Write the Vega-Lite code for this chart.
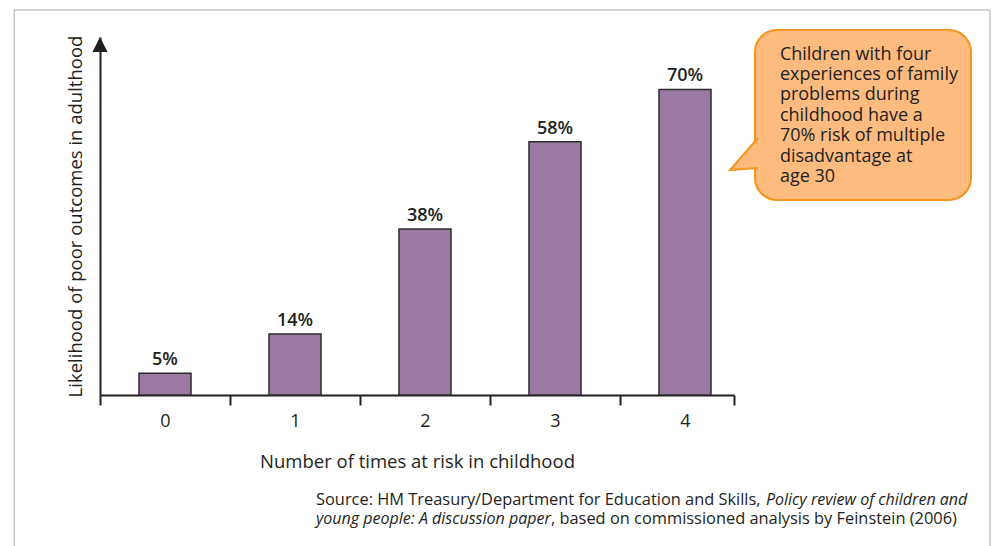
{
  "$schema": "https://vega.github.io/schema/vega-lite/v6.json",
  "autosize": {"type": "none"},
  "padding": {"left": 100, "top": 37, "right": 258, "bottom": 151},
  "width": 634,
  "height": 358,
  "background": "white",
  "config": {"view": {"stroke": null}, "font": "Open Sans"},
  "datasets": {
    "bars": [
      {"times": 0, "pct": 5, "label": "5%"},
      {"times": 1, "pct": 14, "label": "14%"},
      {"times": 2, "pct": 38, "label": "38%"},
      {"times": 3, "pct": 58, "label": "58%"},
      {"times": 4, "pct": 70, "label": "70%"}
    ],
    "frame": [{"x": -1.16, "x2": 6.346, "y": 88.18, "y2": -40}],
    "arrow": [{"x": -0.5, "y": 82}],
    "box": [{"x": 4.5385, "x2": 6.2, "y": 83.6, "y2": 44.66}],
    "tail": [{"x": 4.3462, "y": 51.54}],
    "note": [{"x": 4.73, "y": 76.8, "text": "Children with four\nexperiences of family\nproblems during\nchildhood have a\n70% risk of multiple\ndisadvantage at\nage 30"}],
    "srcNormal": [
      {"x": 1.1615, "y": -25.2, "text": "Source: HM Treasury/Department for Education and Skills,"},
      {"x": 2.969, "y": -29.55, "text": ", based on commissioned analysis by Feinstein (2006)"}
    ],
    "srcItalic": [
      {"x": 4.623, "y": -25.2, "text": "Policy review of children and"},
      {"x": 1.1615, "y": -29.55, "text": "young people: A discussion paper"}
    ]
  },
  "layer": [
    {
      "data": {"name": "frame"},
      "mark": {"type": "rect", "fill": null, "stroke": "#a8a8a8", "strokeWidth": 1},
      "encoding": {
        "x": {"field": "x", "type": "quantitative", "scale": {"domain": [-0.5, 4.377], "nice": false, "zero": false, "padding": 0}},
        "x2": {"field": "x2"},
        "y": {"field": "y", "type": "quantitative", "scale": {"domain": [0, 82], "nice": false, "padding": 0}},
        "y2": {"field": "y2"}
      }
    },
    {
      "data": {"name": "bars"},
      "mark": {"type": "bar", "orient": "vertical", "width": 52, "fill": "#9a7aa0", "stroke": "#2b2b2b", "strokeWidth": 1.5},
      "encoding": {
        "x": {
          "field": "times", "type": "quantitative",
          "scale": {"domain": [-0.5, 4.377], "nice": false, "zero": false, "padding": 0},
          "axis": {
            "values": [-0.5, 0, 0.5, 1, 1.5, 2, 2.5, 3, 3.5, 4, 4.377],
            "title": "Number of times at risk in childhood",
            "titleFont": "Open Sans", "titleFontSize": 18.5, "titleFontWeight": "normal", "titleColor": "#231f20",
            "titlePadding": 22,
            "labelExpr": "datum.value % 1 === 0 ? '' + datum.value : ''",
            "labelFont": "Open Sans", "labelFontSize": 18, "labelColor": "#231f20", "labelPadding": 7,
            "labelOverlap": false, "labelFlush": false, "labelBound": false,
            "tickSize": 10, "tickWidth": 2, "tickColor": "#231f20",
            "tickOpacity": {"condition": {"test": "datum.value % 1 === 0", "value": 0}, "value": 1},
            "domainColor": "#231f20", "domainWidth": 2, "grid": false
          }
        },
        "y": {
          "field": "pct", "type": "quantitative",
          "scale": {"domain": [0, 82], "nice": false, "padding": 0},
          "axis": {
            "title": "Likelihood of poor outcomes in adulthood",
            "titleFont": "Open Sans", "titleFontSize": 18.5, "titleFontWeight": "normal", "titleColor": "#231f20",
            "titlePadding": 15,
            "labels": false, "ticks": false, "grid": false,
            "domainColor": "#231f20", "domainWidth": 2
          }
        }
      }
    },
    {
      "data": {"name": "bars"},
      "mark": {"type": "text", "baseline": "bottom", "dy": -4, "fontSize": 18, "font": "Open Sans", "fontWeight": 600, "color": "#231f20"},
      "encoding": {
        "x": {"field": "times", "type": "quantitative"},
        "y": {"field": "pct", "type": "quantitative"},
        "text": {"field": "label"}
      }
    },
    {
      "data": {"name": "arrow"},
      "mark": {"type": "point", "shape": "M0,0L-7.5,15L7.5,15Z", "size": 4, "filled": true, "fill": "#231f20", "opacity": 1, "strokeWidth": 0},
      "encoding": {
        "x": {"field": "x", "type": "quantitative"},
        "y": {"field": "y", "type": "quantitative"}
      }
    },
    {
      "data": {"name": "box"},
      "mark": {"type": "rect", "fill": "#fdbb7f", "stroke": "#f7941d", "strokeWidth": 2, "cornerRadius": 22},
      "encoding": {
        "x": {"field": "x", "type": "quantitative"},
        "x2": {"field": "x2"},
        "y": {"field": "y", "type": "quantitative"},
        "y2": {"field": "y2"}
      }
    },
    {
      "data": {"name": "tail"},
      "mark": {"type": "point", "shape": "M28,-32L0,0L28,-2", "size": 4, "fill": "#fdbb7f", "stroke": "#f7941d", "strokeWidth": 2, "opacity": 1, "filled": true},
      "encoding": {
        "x": {"field": "x", "type": "quantitative"},
        "y": {"field": "y", "type": "quantitative"}
      }
    },
    {
      "data": {"name": "note"},
      "mark": {"type": "text", "align": "left", "baseline": "alphabetic", "lineBreak": "\n", "lineHeight": 20.4, "fontSize": 18, "font": "Open Sans", "color": "#231f20"},
      "encoding": {
        "x": {"field": "x", "type": "quantitative"},
        "y": {"field": "y", "type": "quantitative"},
        "text": {"field": "text"}
      }
    },
    {
      "data": {"name": "srcNormal"},
      "mark": {"type": "text", "align": "left", "baseline": "alphabetic", "fontSize": 16.4, "font": "Open Sans", "color": "#231f20"},
      "encoding": {
        "x": {"field": "x", "type": "quantitative"},
        "y": {"field": "y", "type": "quantitative"},
        "text": {"field": "text"}
      }
    },
    {
      "data": {"name": "srcItalic"},
      "mark": {"type": "text", "align": "left", "baseline": "alphabetic", "fontSize": 16, "font": "Open Sans", "fontStyle": "italic", "color": "#231f20"},
      "encoding": {
        "x": {"field": "x", "type": "quantitative"},
        "y": {"field": "y", "type": "quantitative"},
        "text": {"field": "text"}
      }
    }
  ]
}
